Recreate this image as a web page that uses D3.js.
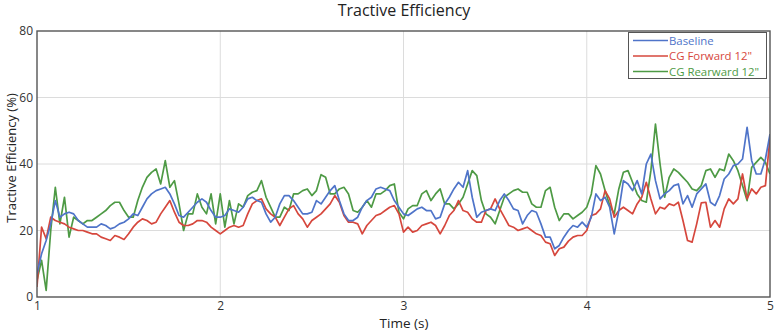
<!DOCTYPE html>
<html>
<head>
<meta charset="utf-8">
<script src="https://cdn.jsdelivr.net/npm/d3@7"></script>
<style>
  html, body { margin: 0; padding: 0; background: #fff; }
  svg { display: block; font-family: "Open Sans", "Noto Sans", sans-serif; }
</style>
</head>
<body>
<svg id="chart" width="780" height="334"></svg>
<script>
// ---- data ----
const timeStart = 1.0;
const timeStep = 0.025; // seconds between samples
const seriesNames = ["Baseline", "CG Forward 12\"", "CG Rearward 12\""];
const xTicks = [1, 2, 3, 4, 5];
const yTicks = [0, 20, 40, 60, 80];

const baseline = [
  7, 13, 17, 22, 29, 24, 25, 25.5, 25, 23,
  22, 21, 21, 21, 22, 21.5, 20.5, 21, 22, 22.5,
  23.5, 25, 24.5, 27, 29.5, 31, 32, 32.5, 33, 31,
  28, 24.5, 24, 25.5, 27, 28.5, 29.5, 28.5, 26, 24,
  24, 24.5, 26.5, 26, 25.5, 27, 29.5, 30, 29, 28.5,
  25, 22.5, 24, 28, 30.5, 30.5, 29, 27, 25, 25,
  25.5, 29, 28, 30, 32, 33.5, 29, 25, 23, 23,
  24, 27, 29, 30, 32.5, 33, 32.5, 32, 29, 27,
  25, 24.5, 25.5, 26.5, 27, 26, 26, 23.5, 24, 28,
  30, 32.5, 34.5, 33, 38, 30, 24, 25.5, 26, 26.5,
  26, 29, 31, 29, 26.5, 26, 22, 24.5, 26, 25.5,
  22, 18, 18, 14.5, 15.5, 18, 20, 21.5, 21, 22.5,
  21, 24, 31, 29, 30, 27, 19, 26, 35, 34,
  32, 35, 31, 40, 43, 35, 29.5, 31, 32, 33.5,
  34, 28, 30.5, 27, 31, 32.5, 34, 28.5, 27.5, 30.5,
  35.5, 37, 39.5, 40, 41.5, 51, 41, 37, 37, 41.5,
  49
];
const cgForward = [
  3, 21, 17.5, 24, 23, 22.5, 22, 21, 20.5, 20,
  20, 19.5, 19, 19, 18, 17.5, 17, 18.5, 18, 17.3,
  19, 21, 22.5, 23.5, 23, 22, 22.5, 25, 27, 29,
  25.5, 22.5, 21.5, 21.5, 22, 23, 23, 22.5, 21, 20,
  19, 20, 21, 21.5, 21, 21.5, 25, 28, 29, 29.5,
  26.5, 25, 24, 21.5, 24, 26.5, 27.5, 25, 23.5, 21,
  23, 24, 25, 26.5, 28, 30.5, 28.5, 24.5, 22.5, 22.5,
  22, 19, 21.5, 23, 24.5, 25, 26, 27, 27.5, 25,
  19.5, 21, 19.5, 20, 21.5, 22, 22.5, 21.5, 19, 21.5,
  24.5, 26, 29, 26, 25.5, 23.5, 22.5, 22.5, 26, 26.5,
  29.5, 26.5, 24, 21.5, 21, 20, 20.5, 21, 20, 19,
  18.5, 16.5, 16, 12.5, 14.5, 15, 16.8, 18, 18.5, 18.5,
  20, 24.5, 25, 26.5, 32, 29.5, 24, 26, 27, 26,
  25, 28, 30, 34.5, 29.5, 25, 27, 26.5, 28, 27.5,
  28.5, 23, 17, 16.5, 22, 28.3, 28.5, 21, 23, 21,
  26.5, 29.5, 28, 29.5, 37, 29.5, 32.5, 31, 33, 33.5,
  48
];
const cgRearward = [
  5, 11, 2, 20, 33, 22, 30, 18, 24, 23,
  22, 23, 23, 24, 25, 26, 27.5, 28.5, 28.5, 26,
  24, 24, 29, 33, 36, 37.5, 38.5, 34, 41, 33,
  35, 28, 20, 25, 25, 31, 27, 25, 31, 22,
  31, 21, 29, 22, 28, 27, 30.5, 31.5, 32, 35,
  30, 27, 24, 24, 27, 26, 31, 31, 32, 32.5,
  30.5, 32, 36.8, 36, 31, 31, 32.5, 33, 31, 26,
  25.5, 27, 29, 27, 31, 31, 32, 33.5, 34, 25.5,
  23.5, 26.5, 27.5, 27.5, 31, 32, 29, 31, 32.5, 28,
  28, 26.5, 28, 30, 34, 38, 36.5, 29, 25, 24,
  22, 26, 30, 31, 32, 32.5, 31.5, 31.5, 28, 27,
  27, 32, 33, 27, 23, 25, 25, 23.5, 24.5, 25.5,
  27, 31, 39.5, 37, 32, 27.6, 25, 32.5, 37.5, 38,
  34.5, 31, 29, 28.5, 38, 52, 40, 30, 36, 38.5,
  37.5, 36, 34.5, 32.5, 32, 33.5, 38, 38.5, 36, 38.5,
  38, 43, 41, 38, 33.5, 29, 39, 40.5, 42, 40.5,
  37
];
const seriesValues = [baseline, cgForward, cgRearward];
const seriesColors = ["#4f74c9", "#d6473d", "#4e9a45"];

// ---- layout ----
const svg = d3.select("#chart");
const plot = { left: 37, right: 770, top: 31, bottom: 297 };

const x = d3.scaleLinear().domain([1, 5]).range([plot.left, plot.right]);
const y = d3.scaleLinear().domain([0, 80]).range([plot.bottom, plot.top]);

// gridlines
svg.append("g").selectAll("line")
  .data(yTicks.filter(d => d > 0 && d < 80)).join("line")
  .attr("x1", plot.left).attr("x2", plot.right)
  .attr("y1", d => y(d)).attr("y2", d => y(d))
  .attr("stroke", "#dcdcdc").attr("stroke-width", 1);
svg.append("g").selectAll("line")
  .data(xTicks.filter(d => d > 1 && d < 5)).join("line")
  .attr("y1", plot.top).attr("y2", plot.bottom)
  .attr("x1", d => x(d)).attr("x2", d => x(d))
  .attr("stroke", "#dcdcdc").attr("stroke-width", 1);

// lines
const line = d3.line()
  .x((d, i) => x(timeStart + i * timeStep))
  .y(d => y(d));
svg.append("clipPath").attr("id", "clip").append("rect")
  .attr("x", plot.left).attr("y", plot.top)
  .attr("width", plot.right - plot.left).attr("height", plot.bottom - plot.top);
const lg = svg.append("g").attr("clip-path", "url(#clip)");
[2, 1, 0].forEach(k => {
  lg.append("path").datum(seriesValues[k])
    .attr("fill", "none").attr("stroke", seriesColors[k])
    .attr("stroke-width", 1.7).attr("stroke-linejoin", "round")
    .attr("d", line);
});

// frame
svg.append("rect")
  .attr("x", plot.left).attr("y", plot.top)
  .attr("width", plot.right - plot.left).attr("height", plot.bottom - plot.top)
  .attr("fill", "none").attr("stroke", "#555").attr("stroke-width", 1.4);

// axes
const xAxis = d3.axisBottom(x).tickValues(xTicks).tickSize(0).tickPadding(4).tickFormat(d3.format("d"));
const yAxis = d3.axisLeft(y).tickValues(yTicks).tickSize(0).tickPadding(4).tickFormat(d3.format("d"));
const gx = svg.append("g").attr("transform", `translate(0,${plot.bottom})`).call(xAxis);
const gy = svg.append("g").attr("transform", `translate(${plot.left},0)`).call(yAxis);
[gx, gy].forEach(g => {
  g.select(".domain").remove();
  g.selectAll("text").attr("fill", "#333").style("font-size", "12px")
    .style("font-family", "'Open Sans', 'Noto Sans', sans-serif");
});

// title & labels
svg.append("text").attr("x", 404).attr("y", 16)
  .attr("text-anchor", "middle").attr("fill", "#222").style("font-size", "16px")
  .text("Tractive Efficiency");
svg.append("text").attr("x", 404).attr("y", 328)
  .attr("text-anchor", "middle").attr("fill", "#222").style("font-size", "13.5px")
  .text("Time (s)");
svg.append("text")
  .attr("transform", `translate(16,158) rotate(-90)`)
  .attr("text-anchor", "middle").attr("fill", "#222").style("font-size", "13px")
  .text("Tractive Efficiency (%)");

// legend
const leg = svg.append("g");
leg.append("rect").attr("x", 628.5).attr("y", 32.5).attr("width", 138).attr("height", 46)
  .attr("fill", "#fff").attr("stroke", "#555").attr("stroke-width", 1);
seriesNames.forEach((name, k) => {
  const yy = 40.5 + k * 15.5;
  leg.append("line").attr("x1", 633).attr("x2", 668).attr("y1", yy).attr("y2", yy)
    .attr("stroke", seriesColors[k]).attr("stroke-width", 1.6);
  leg.append("text").attr("x", 669).attr("y", yy + 4).attr("fill", seriesColors[k])
    .style("font-size", "11.4px").text(name);
});
</script>
</body>
</html>
